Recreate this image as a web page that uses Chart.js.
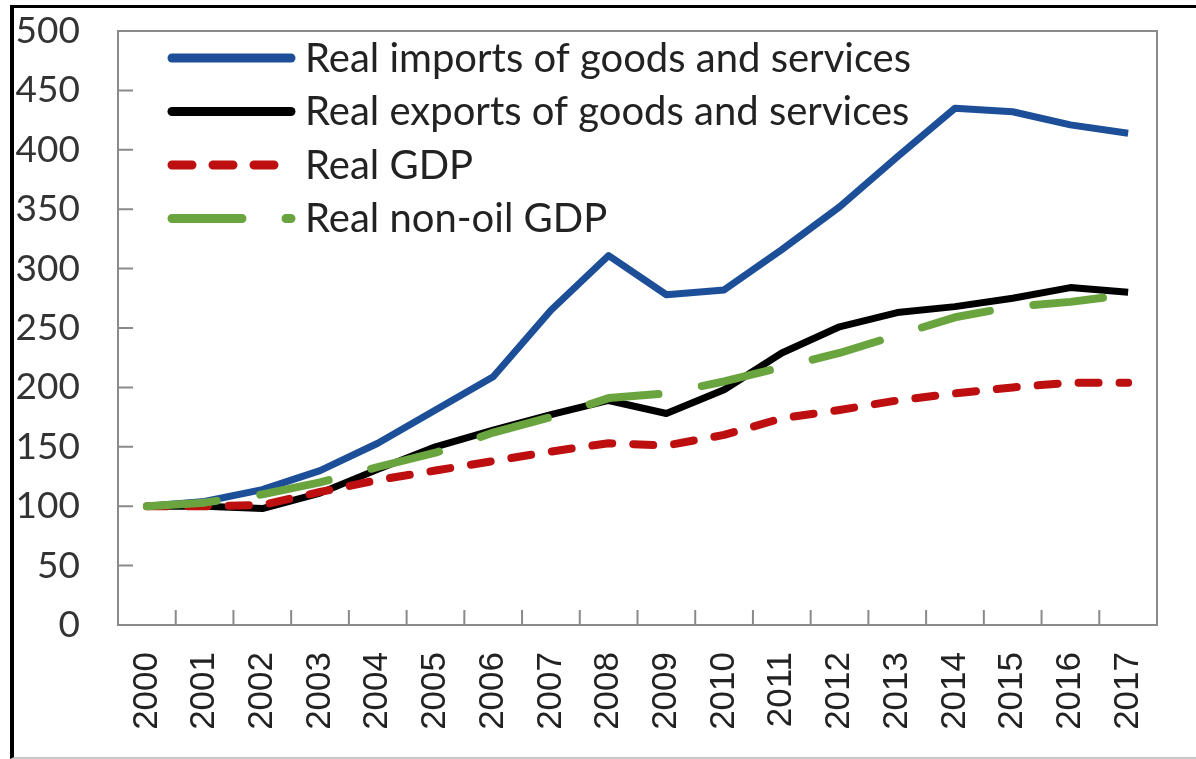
<!DOCTYPE html>
<html>
<head>
<meta charset="utf-8">
<script src="https://cdn.jsdelivr.net/npm/chart.js@4.4.1/dist/chart.umd.min.js"></script>
<style>
  html, body { margin: 0; padding: 0; background: #fff; }
  #wrap { position: relative; width: 1196px; height: 759px; overflow: hidden; }
  #frame { position: absolute; left: 10px; top: 5px; right: 0; bottom: 0; border-top: 3px solid #000; border-left: 4px solid #000; border-bottom: 2px solid #c8c8c8; pointer-events: none; }
  canvas { position: absolute; left: 0; top: 0; }
</style>
</head>
<body>
<div id="wrap">
  <canvas id="tradeChart" width="1196" height="759"></canvas>
  <div id="frame"></div>
</div>
<script>
// Index, 2000 = 100
const years = ['2000', '2001', '2002', '2003', '2004', '2005', '2006', '2007', '2008',
               '2009', '2010', '2011', '2012', '2013', '2014', '2015', '2016', '2017'];
const realImports = [100, 104, 114, 130, 153, 181, 209, 265, 311, 278, 282, 316, 352, 394, 435, 432, 421, 414];
const realExports = [100, 100, 98, 111, 131, 150, 164, 177, 189, 178, 198, 229, 251, 263, 268, 275, 284, 280];
const realGdp = [100, 100, 101, 112, 122, 130, 138, 146, 153, 151, 160, 174, 181, 189, 195, 200, 204, 204];
const realNonOilGdp = [100, 103, 110, 120, 133, 145, 162, 175, 191, 195, 205, 217, 229, 244, 259, 268, 272, 278];
const yTicks = { min: 0, max: 500, step: 50 };

// Plot box plus short tick marks pointing into the plot
const axisFrame = {
  id: 'axisFrame',
  beforeDatasetsDraw(chart) {
    const { ctx, chartArea: a, scales: { x, y } } = chart;
    ctx.save();
    ctx.strokeStyle = '#8a8a8a';
    ctx.lineWidth = 2;
    ctx.strokeRect(a.left, a.top, a.right - a.left, a.bottom - a.top);
    ctx.beginPath();
    y.ticks.forEach(t => {
      if (t.value === yTicks.min || t.value === yTicks.max) return;
      const py = y.getPixelForValue(t.value);
      ctx.moveTo(a.left, py);
      ctx.lineTo(a.left + 15, py);
    });
    for (let i = 0; i < years.length - 1; i++) {
      const px = (x.getPixelForValue(i) + x.getPixelForValue(i + 1)) / 2;
      ctx.moveTo(px, a.bottom);
      ctx.lineTo(px, a.bottom - 15);
    }
    ctx.stroke();
    ctx.restore();
  }
};

// Legend drawn inside the top-left corner of the plot
const insideLegend = {
  id: 'insideLegend',
  afterDatasetsDraw(chart) {
    const { ctx, chartArea: a } = chart;
    ctx.save();
    ctx.font = '40px Lato';
    ctx.textBaseline = 'middle';
    chart.data.datasets.forEach((ds, i) => {
      const yy = a.top + 27 + i * 53.5;
      ctx.strokeStyle = ds.borderColor;
      ctx.lineWidth = 9;
      ctx.lineCap = 'round';
      ctx.setLineDash(ds.borderDash || []);
      ctx.beginPath();
      ctx.moveTo(a.left + 54, yy);
      ctx.lineTo(a.left + 173, yy);
      ctx.stroke();
      ctx.setLineDash([]);
      ctx.fillStyle = '#222';
      ctx.fillText(ds.label, a.left + 187, yy + 1);
    });
    ctx.restore();
  }
};

const ctx = document.getElementById('tradeChart').getContext('2d');
const tradeChart = new Chart(ctx, {
  type: 'line',
  data: {
    labels: years,
    datasets: [
      {
        label: 'Real imports of goods and services',
        data: realImports,
        borderColor: '#1d4f98',
        borderWidth: 7,
        order: 4
      },
      {
        label: 'Real exports of goods and services',
        data: realExports,
        borderColor: '#000000',
        borderWidth: 7,
        order: 3
      },
      {
        label: 'Real GDP',
        data: realGdp,
        borderColor: '#bd0f0f',
        borderWidth: 8,
        borderDash: [20, 21],
        borderCapStyle: 'round',
        order: 2
      },
      {
        label: 'Real non-oil GDP',
        data: realNonOilGdp,
        borderColor: '#6aa43f',
        borderWidth: 8,
        borderDash: [70, 44],
        borderCapStyle: 'round',
        order: 1
      }
    ]
  },
  options: {
    responsive: false,
    devicePixelRatio: 1,
    animation: false,
    layout: { padding: { top: 31, right: 39, left: 0, bottom: 0 } },
    elements: {
      point: { radius: 0 },
      line: { tension: 0, borderJoinStyle: 'round', fill: false }
    },
    plugins: {
      legend: { display: false },
      tooltip: { enabled: false }
    },
    scales: {
      x: {
        offset: true,
        grid: { display: false, drawTicks: false, offset: true },
        border: { display: false },
        ticks: {
          autoSkip: false,
          minRotation: 90,
          maxRotation: 90,
          padding: 27,
          color: '#222',
          font: { family: "'Liberation Sans', Arial", size: 35 }
        },
        afterFit(scale) {
          scale.height = 134;
          scale.paddingLeft = 0;
          scale.paddingRight = 0;
        }
      },
      y: {
        min: yTicks.min,
        max: yTicks.max,
        grid: { display: false, drawTicks: false },
        border: { display: false },
        ticks: {
          stepSize: yTicks.step,
          padding: 38,
          color: '#333',
          font: { family: 'Lato', size: 37 }
        },
        afterFit(scale) {
          scale.width = 118;
          scale.paddingTop = 0;
          scale.paddingBottom = 0;
        }
      }
    }
  },
  plugins: [axisFrame, insideLegend]
});
</script>
</body>
</html>
